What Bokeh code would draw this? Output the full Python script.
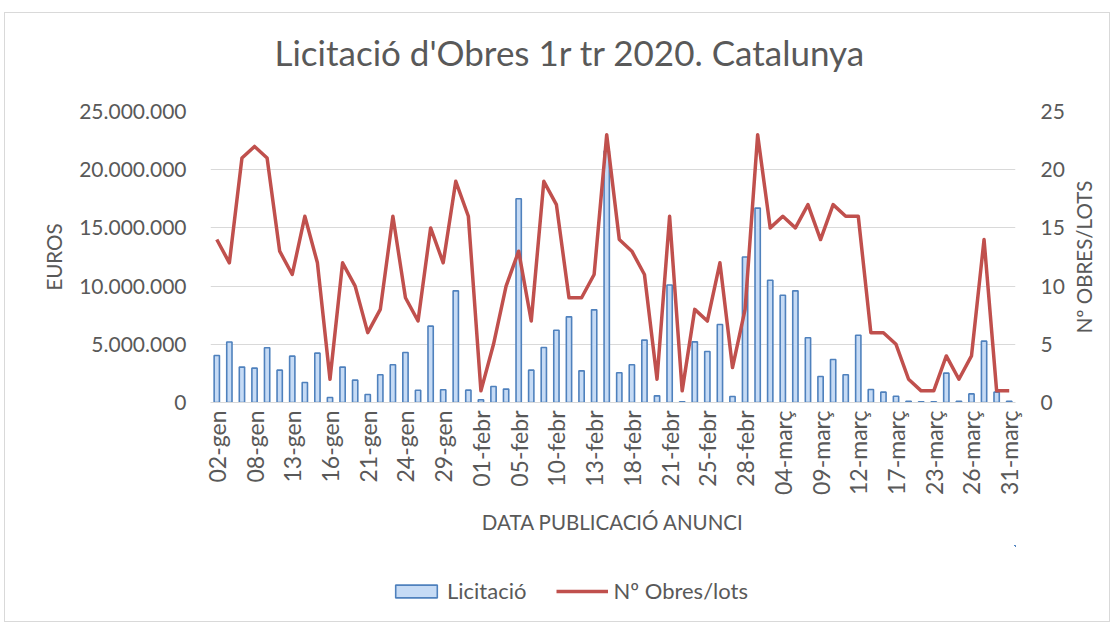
import math
from bokeh.plotting import figure
from bokeh.layouts import column, row
from bokeh.models import Range1d, LinearAxis, FixedTicker, Legend, LegendItem, ColumnDataSource, Title
from bokeh.embed import file_html
from bokeh.resources import INLINE

# ---- data ----
dates = ["02-gen", "03-gen", "07-gen", "08-gen", "09-gen", "10-gen", "13-gen", "14-gen",
         "15-gen", "16-gen", "17-gen", "20-gen", "21-gen", "22-gen", "23-gen", "24-gen",
         "27-gen", "28-gen", "29-gen", "30-gen", "31-gen", "01-febr", "03-febr", "04-febr",
         "05-febr", "06-febr", "07-febr", "10-febr", "11-febr", "12-febr", "13-febr", "14-febr",
         "17-febr", "18-febr", "19-febr", "20-febr", "21-febr", "22-febr", "24-febr", "25-febr",
         "26-febr", "27-febr", "28-febr", "02-març", "03-març", "04-març", "05-març", "06-març",
         "09-març", "10-març", "11-març", "12-març", "13-març", "16-març", "17-març", "18-març",
         "20-març", "23-març", "24-març", "25-març", "26-març", "27-març", "30-març", "31-març"]

licitacio = [4040000, 5200000, 3040000, 2950000, 4700000, 2780000, 3980000, 1720000,
             4240000, 430000, 3040000, 1920000, 690000, 2380000, 3240000, 4300000,
             1050000, 6560000, 1090000, 9590000, 1060000, 230000, 1370000, 1150000,
             17500000, 2780000, 4730000, 6210000, 7360000, 2720000, 7960000, 21600000,
             2550000, 3240000, 5360000, 570000, 10100000, 60000, 5210000, 4380000,
             6700000, 520000, 12500000, 16700000, 10500000, 9220000, 9590000, 5560000,
             2230000, 3690000, 2380000, 5780000, 1120000, 890000, 540000, 110000,
             60000, 60000, 2520000, 110000, 740000, 5270000, 890000, 110000]

obres = [14, 12, 21, 22, 21, 13, 11, 16, 12, 2, 12, 10, 6, 8, 16, 9,
         7, 15, 12, 19, 16, 1, 5, 10, 13, 7, 19, 17, 9, 9, 11, 23,
         14, 13, 11, 2, 16, 1, 8, 7, 12, 3, 8, 23, 15, 16, 15, 17,
         14, 17, 16, 16, 6, 6, 5, 2, 1, 1, 4, 2, 4, 14, 1, 1]

euro_ticks = [0, 5000000, 10000000, 15000000, 20000000, 25000000]
count_ticks = [0, 5, 10, 15, 20, 25]
label_step = 3

FONT = "Lato"
GREY = "#595959"
BAR_FILL = "#c6dbf5"
BAR_LINE = "#4f81bd"
LINE_COLOR = "#c0504d"
W_MAIN = 1064

x = list(range(len(dates)))
src = ColumnDataSource(dict(x=x, lic=licitacio, n=obres))


def blank(width, height, **kw):
    f = figure(width=width, height=height, output_backend="svg", toolbar_location=None,
               x_axis_location=None, y_axis_location=None, **kw)
    f.outline_line_color = None
    f.grid.visible = False
    return f


# title strip
tt = blank(W_MAIN, 80, x_range=Range1d(0, 1), y_range=Range1d(0, 1), min_border=0)
tt.title.text = "Licitació d'Obres 1r tr 2020. Catalunya"
tt.title.text_font = FONT
tt.title.text_font_size = "35px"
tt.title.text_font_style = "normal"
tt.title.text_color = GREY
tt.title.align = "left"
tt.title.offset = 64
tt.title.standoff = 30

# main chart
p = figure(width=W_MAIN, height=452, output_backend="svg", toolbar_location=None,
           x_range=Range1d(-0.5, len(dates) - 0.5), y_range=Range1d(0, euro_ticks[-1]),
           min_border_left=205, min_border_right=54, min_border_top=18, min_border_bottom=143)
p.title.visible = False
p.outline_line_color = None
p.extra_y_ranges = {"n": Range1d(0, count_ticks[-1])}

bars = p.vbar(x="x", top="lic", width=0.42, source=src,
              fill_color=BAR_FILL, line_color=BAR_LINE, line_width=1.6)
line = p.line(x="x", y="n", source=src, y_range_name="n",
              line_color=LINE_COLOR, line_width=3.5, line_join="round")

xa = p.xaxis[0]
xa.ticker = FixedTicker(ticks=x[::label_step])
xa.major_label_overrides = {i: dates[i] for i in x[::label_step]}
xa.major_label_orientation = math.pi / 2
xa.axis_label = "DATA PUBLICACIÓ ANUNCI"

ya = p.yaxis[0]
ya.ticker = FixedTicker(ticks=euro_ticks)
ya.major_label_overrides = {t: f"{t:,}".replace(",", ".") for t in euro_ticks}
ya.axis_label = "EUROS"

ra = LinearAxis(y_range_name="n", ticker=FixedTicker(ticks=count_ticks))
p.add_layout(ra, "right")

for ax in (xa, ya, ra):
    ax.major_label_text_font = FONT
    ax.major_label_text_font_size = "21px"
    ax.major_label_text_color = GREY
    ax.axis_label_text_font = FONT
    ax.axis_label_text_font_size = "20.5px"
    ax.axis_label_text_font_style = "normal"
    ax.axis_label_text_color = GREY
    ax.major_tick_line_color = None
    ax.minor_tick_line_color = None
    ax.major_tick_out = 0
    ax.major_tick_in = 0

xa.major_label_text_font_size = "23px"
xa.axis_line_color = "#d9d9d9"
ya.axis_line_color = None
ra.axis_line_color = None
xa.major_label_standoff = 8
ya.major_label_standoff = 24
ra.major_label_standoff = 25
ya.axis_label_standoff = 10
xa.axis_label_standoff = 12

p.xgrid.visible = False
p.ygrid.ticker = FixedTicker(ticks=euro_ticks)
p.ygrid.grid_line_color = "#d9d9d9"
p.ygrid.grid_line_width = 1

# legend strip (same data, drawn outside the strip's visible ranges)
leg = blank(W_MAIN, 76, x_range=Range1d(-200, -100), y_range=Range1d(-3e7, -2e7), min_border=0)
lb = leg.vbar(x="x", top="lic", width=0.42, source=src,
              fill_color=BAR_FILL, line_color=BAR_LINE, line_width=1.6)
ll = leg.line(x="x", y="n", source=src, line_color=LINE_COLOR, line_width=3.5)
legend = Legend(items=[LegendItem(label="Licitació", renderers=[lb]),
                       LegendItem(label="Nº Obres/lots", renderers=[ll])],
                orientation="horizontal", location=(180, 17),
                label_text_font=FONT, label_text_font_size="22px", label_text_color=GREY,
                glyph_width=52, glyph_height=16, spacing=30, margin=0, padding=0,
                label_standoff=5,
                border_line_color=None, background_fill_alpha=0)
leg.add_layout(legend)

# narrow strip on the right holding the secondary axis title
rt = blank(1104 - W_MAIN, 608, x_range=Range1d(0, 1), y_range=Range1d(0, 1),
           min_border_left=0, min_border_right=0, min_border_top=98, min_border_bottom=219)
rt.add_layout(Title(text="Nº OBRES/LOTS", align="center", text_font=FONT,
                    text_font_size="20.5px", text_font_style="normal",
                    text_color=GREY, standoff=0), "left")

page = row(column(tt, p, leg, spacing=0), rt, spacing=0, margin=(12, 0, 0, 4),
           styles={"border": "1px solid #d9d9d9"})

open("out.html", "w").write(file_html(page, INLINE))
